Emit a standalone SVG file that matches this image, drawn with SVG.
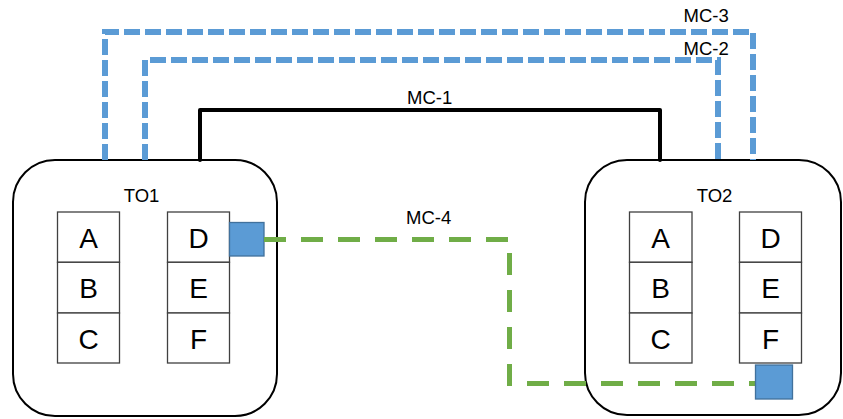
<svg xmlns="http://www.w3.org/2000/svg" width="843" height="419" viewBox="0 0 843 419">
<style>
.to{fill:#fff;stroke:#000;stroke-width:2}
.cell{fill:#fff;stroke:#404040;stroke-width:1.3}
.lt{font-family:"Liberation Sans",Arial,sans-serif;font-size:28px;fill:#000;text-anchor:middle}
.lbl{font-family:"Liberation Sans",Arial,sans-serif;font-size:18.5px;fill:#000}
.port{fill:#5B9BD5;stroke:#41719C;stroke-width:1.3}
.blue{fill:none;stroke:#5B9BD5;stroke-width:6;stroke-dasharray:16 5}
.green{fill:none;stroke:#70AD47;stroke-width:5;stroke-dasharray:22 15}
.black{fill:none;stroke:#000;stroke-width:4;stroke-linecap:round;stroke-linejoin:round}
</style>
<rect width="843" height="419" fill="#fff"/>
<g id="TO1">
<rect class="to" x="13" y="160" width="264" height="256" rx="42"/>
<text class="lbl" x="141.5" y="202" text-anchor="middle">TO1</text>
<rect class="cell" x="57.5" y="212" width="62" height="50.3"/>
<rect class="cell" x="57.5" y="262.3" width="62" height="50.7"/>
<rect class="cell" x="57.5" y="313" width="62" height="50"/>
<rect class="cell" x="167.5" y="212" width="62" height="50.3"/>
<rect class="cell" x="167.5" y="262.3" width="62" height="50.7"/>
<rect class="cell" x="167.5" y="313" width="62" height="50"/>
<text class="lt" x="88.5" y="248">A</text>
<text class="lt" x="88.5" y="298">B</text>
<text class="lt" x="88.5" y="349">C</text>
<text class="lt" x="198.5" y="248">D</text>
<text class="lt" x="198.5" y="298">E</text>
<text class="lt" x="198.5" y="349">F</text>
<rect class="port" x="229.5" y="222.5" width="34.5" height="33.5"/>
</g>
<g id="TO2">
<rect class="to" x="585" y="160" width="256" height="255" rx="42"/>
<text class="lbl" x="714.5" y="202" text-anchor="middle">TO2</text>
<rect class="cell" x="629.5" y="212" width="62.5" height="50.3"/>
<rect class="cell" x="629.5" y="262.3" width="62.5" height="50.7"/>
<rect class="cell" x="629.5" y="313" width="62.5" height="50"/>
<rect class="cell" x="739.5" y="212" width="62" height="50.3"/>
<rect class="cell" x="739.5" y="262.3" width="62" height="50.7"/>
<rect class="cell" x="739.5" y="313" width="62" height="50"/>
<text class="lt" x="660.5" y="248">A</text>
<text class="lt" x="660.5" y="298">B</text>
<text class="lt" x="660.5" y="349">C</text>
<text class="lt" x="770.5" y="248">D</text>
<text class="lt" x="770.5" y="298">E</text>
<text class="lt" x="770.5" y="349">F</text>
</g>
<g id="connectors">
<path class="blue" d="M105,160 V32 H753 V160"/>
<path class="blue" d="M145,160 V60 H718 V160"/>
<path class="black" d="M200,160 V110 H660 V160"/>
<path class="green" d="M264,239.5 H509.5 V383.5 H755"/>
<text class="lbl" x="683.5" y="21.5">MC-3</text>
<text class="lbl" x="683.5" y="55">MC-2</text>
<text class="lbl" x="407" y="104">MC-1</text>
<text class="lbl" x="406" y="224">MC-4</text>
</g>
<g id="TO2-port">
<rect class="port" x="755.5" y="365" width="37" height="34"/>
</g>
</svg>
